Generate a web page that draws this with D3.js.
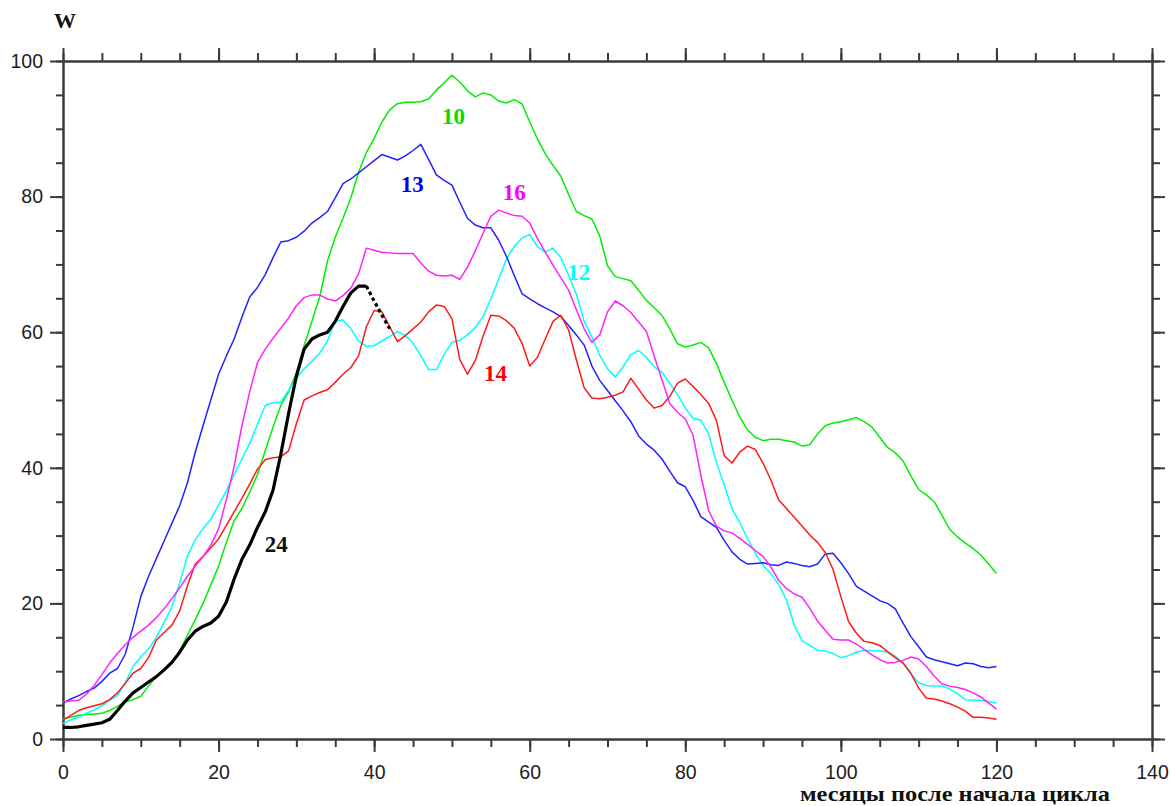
<!DOCTYPE html>
<html>
<head>
<meta charset="utf-8">
<script src="https://cdn.jsdelivr.net/npm/d3@7/dist/d3.min.js"></script>
<style>
  html, body { margin: 0; padding: 0; background: #ffffff; }
  svg { display: block; }
</style>
</head>
<body>
<svg id="chart" width="1171" height="806"></svg>
<script>
// ---------------- DATA ----------------
const months = d3.range(0, 121);   // 0 .. 120 months after cycle start
const months24 = d3.range(0, 43);  // cycle 24: 0 .. 42

const cycle10 = [3.0,3.2,3.5,3.6,3.7,3.8,4.2,4.8,5.5,5.8,6.3,7.8,9.2,10.2,11.2,13.0,15.3,17.6,20.0,22.7,
  25.5,29.0,32.2,34.0,36.4,39.0,42.5,46.0,49.2,51.2,54.0,58.0,61.6,65.2,70.5,74.0,76.8,79.8,83.6,86.5,
  88.6,91.0,92.8,93.7,93.9,93.9,94.0,94.4,95.7,96.8,97.9,96.9,95.6,94.7,95.3,95.0,94.1,93.8,94.3,93.7,
  91.0,88.5,86.3,84.6,83.0,80.3,77.8,77.2,76.7,74.2,69.8,68.2,67.9,67.6,66.2,64.7,63.6,62.5,60.5,58.3,
  57.8,58.1,58.5,57.7,55.4,52.6,50.0,47.5,45.6,44.5,44.0,44.2,44.2,44.0,43.8,43.2,43.4,45.0,46.2,46.6,
  46.8,47.1,47.4,46.8,46.0,44.5,43.0,42.2,41.0,38.8,36.8,36.0,35.0,33.0,30.9,29.8,28.9,28.1,27.1,25.8,24.4];

const cycle12 = [2.3,2.8,3.2,3.8,4.3,4.9,5.7,6.4,8.3,10.7,12.1,13.3,15.0,17.2,19.5,23.0,27.0,29.4,31.0,32.4,
  34.5,36.6,39.0,41.3,43.6,46.4,49.2,49.6,49.7,51.4,53.2,54.6,55.7,56.9,58.7,61.7,61.8,60.5,58.7,57.9,
  58.0,58.7,59.4,60.1,59.5,58.4,56.5,54.5,54.5,56.7,58.5,58.8,59.6,60.7,62.3,64.9,67.8,70.8,72.6,73.9,
  74.4,72.6,71.8,72.4,71.0,68.4,65.6,61.6,59.3,56.6,54.6,53.4,54.9,56.7,57.3,56.3,54.9,54.1,52.5,50.8,
  48.8,47.3,47.0,45.0,40.8,37.5,34.0,31.9,29.6,27.4,25.6,24.4,22.8,20.5,16.8,14.5,13.8,13.1,13.0,12.6,
  12.0,12.3,12.8,13.1,13.0,13.0,12.8,12.2,11.2,9.6,8.3,7.9,7.8,7.8,7.4,6.7,5.8,5.7,5.7,5.5,5.3];

const cycle13 = [5.3,5.9,6.4,7.0,7.5,8.5,9.7,10.4,12.5,16.5,21.0,24.0,26.6,29.2,31.8,34.4,37.8,42.3,46.2,50.0,
  53.8,56.5,59.0,62.2,65.2,66.6,68.5,71.0,73.3,73.5,74.0,74.9,76.1,76.9,77.8,79.8,81.9,82.6,83.5,84.4,
  85.3,86.2,85.8,85.4,86.0,86.8,87.7,85.5,83.2,82.4,81.7,79.2,76.8,75.8,75.4,75.4,73.6,71.2,68.4,65.7,
  64.9,64.2,63.6,63.0,62.3,61.0,59.6,58.1,55.0,52.9,51.4,49.9,48.4,46.8,44.7,43.5,42.6,41.3,39.5,37.8,
  37.2,35.2,32.8,32.0,31.2,29.3,27.6,26.5,25.8,25.9,26.0,25.7,25.6,26.1,25.9,25.6,25.4,25.8,27.3,27.4,
  26.0,24.4,22.5,21.8,21.1,20.4,20.0,19.2,17.1,15.1,13.6,12.1,11.7,11.4,11.1,10.8,11.2,11.1,10.7,10.5,10.7];

const cycle14 = [2.8,3.5,4.2,4.6,4.9,5.2,5.8,6.8,8.2,9.7,10.4,12.0,14.6,15.7,16.8,18.9,22.6,25.8,26.9,28.2,
  29.5,31.5,33.5,35.5,37.6,39.8,41.2,41.5,41.6,42.5,46.5,50.0,50.6,51.1,51.5,52.6,53.8,54.8,56.5,60.8,
  63.2,63.0,60.8,58.6,59.5,60.5,61.5,63.0,64.0,63.8,62.0,56.0,53.8,55.8,59.4,62.5,62.4,61.7,60.6,58.4,
  55.0,56.3,59.0,61.6,62.5,60.3,55.9,51.8,50.3,50.2,50.4,50.7,51.2,53.2,51.6,50.0,48.8,49.2,50.5,52.5,
  53.1,52.0,50.8,49.5,47.0,41.8,40.7,42.3,43.2,42.7,40.7,38.2,35.3,34.0,32.7,31.4,30.1,29.0,27.5,25.0,
  21.0,17.3,15.6,14.4,14.2,13.8,12.9,12.0,11.2,9.7,7.5,6.0,5.9,5.6,5.2,4.7,4.1,3.2,3.2,3.1,2.9];

const cycle16 = [5.5,5.6,5.7,6.6,7.9,9.5,11.2,12.6,13.9,15.0,15.9,16.8,17.9,19.2,20.7,22.3,24.0,25.5,26.9,28.6,
  31.0,35.3,40.2,46.2,51.2,55.5,57.5,59.1,60.6,62.1,63.9,65.1,65.5,65.5,64.9,64.6,65.4,66.5,68.6,72.4,
  72.1,71.8,71.7,71.6,71.6,71.6,70.2,69.0,68.4,68.3,68.4,67.8,69.6,72.0,74.6,77.1,78.0,77.6,77.2,77.1,
  76.1,73.8,71.8,69.9,68.0,66.2,63.3,60.5,58.5,59.6,63.0,64.6,63.9,62.9,61.5,60.1,56.5,53.0,49.5,48.2,
  47.2,44.8,38.9,33.7,31.4,30.7,30.4,29.6,28.7,27.8,26.9,25.4,23.4,22.2,21.4,20.9,19.3,17.4,16.0,14.7,
  14.6,14.6,14.0,13.2,12.4,11.7,11.2,11.3,11.6,12.1,11.8,10.7,9.3,8.1,7.8,7.6,7.3,6.8,6.2,5.3,4.4];

const cycle24 = [1.7,1.7,1.8,2.0,2.2,2.4,2.9,4.2,5.6,6.8,7.6,8.4,9.2,10.2,11.3,12.8,14.6,15.9,16.6,17.1,
  18.1,20.2,23.6,26.5,28.6,31.2,33.5,36.7,42.0,48.0,53.5,57.5,59.0,59.6,60.0,61.6,63.8,65.8,66.8,66.8,
  64.6,62.5,60.5];
const cycle24LastObserved = 39; // later months drawn dotted

const seriesNames  = ["10", "12", "13", "14", "16"];
const seriesValues = [cycle10, cycle12, cycle13, cycle14, cycle16];
const seriesColors = ["#00ee00", "#00ffff", "#2222ff", "#ff1a1a", "#ff22ff"];

// label anchors in data space (month, W)
const labelNames  = ["10", "13", "16", "12", "14", "24"];
const labelMonths = [50.2, 44.9, 58.0, 66.3, 55.6, 27.4];
const labelValues = [90.7, 80.7, 79.5, 67.7, 52.8, 27.6];
const labelColors = ["#00dd00", "#0000ee", "#ff00ff", "#00ffff", "#ff0000", "#111111"];

const xTicksMajor = d3.range(0, 141, 20);
const xTicksMinor = d3.range(0, 141, 5);
const yTicksMajor = d3.range(0, 101, 20);
const yTicksMinor = d3.range(0, 101, 5);

const yAxisTitle = "W";
const xAxisTitle = "месяцы после начала цикла";

// ---------------- DRAWING ----------------
const svg = d3.select("#chart");
const L = 63, R = 1152, T = 61, B = 739;
const x = d3.scaleLinear().domain([0, 140]).range([L, R]);
const y = d3.scaleLinear().domain([0, 100]).range([B, T]);

const axisColor = "#3a3a3a";
const sansFont = "'Liberation Sans', Arial, sans-serif";
const serifFont = "'Liberation Serif', 'Times New Roman', serif";

function styleAxis(g) {
  g.selectAll("path.domain").attr("stroke", axisColor).attr("stroke-width", 2);
  g.selectAll(".tick line").attr("stroke", axisColor).attr("stroke-width", 2);
  g.selectAll(".tick text").attr("fill", "#1c1c24")
    .style("font-family", sansFont).style("font-size", "19.5px");
}

// minor ticks (no labels)
svg.append("g").attr("transform", `translate(0,${B})`)
  .call(d3.axisBottom(x).tickValues(xTicksMinor).tickSize(8).tickSizeOuter(0).tickFormat(""))
  .call(styleAxis);
svg.append("g").attr("transform", `translate(0,${T})`)
  .call(d3.axisTop(x).tickValues(xTicksMinor).tickSize(8).tickSizeOuter(0).tickFormat(""))
  .call(styleAxis);
svg.append("g").attr("transform", `translate(${L},0)`)
  .call(d3.axisLeft(y).tickValues(yTicksMinor).tickSize(7).tickSizeOuter(0).tickFormat(""))
  .call(styleAxis);
svg.append("g").attr("transform", `translate(${R},0)`)
  .call(d3.axisRight(y).tickValues(yTicksMinor).tickSize(8).tickSizeOuter(0).tickFormat(""))
  .call(styleAxis);

// major ticks
svg.append("g").attr("transform", `translate(0,${B})`)
  .call(d3.axisBottom(x).tickValues(xTicksMajor).tickSize(13).tickSizeOuter(0).tickPadding(13).tickFormat(d3.format("d")))
  .call(styleAxis);
svg.append("g").attr("transform", `translate(0,${T})`)
  .call(d3.axisTop(x).tickValues(xTicksMajor).tickSize(13).tickSizeOuter(0).tickFormat(""))
  .call(styleAxis);
svg.append("g").attr("transform", `translate(${L},0)`)
  .call(d3.axisLeft(y).tickValues(yTicksMajor).tickSize(13).tickSizeOuter(0).tickPadding(7).tickFormat(d3.format("d")))
  .call(styleAxis);
svg.append("g").attr("transform", `translate(${R},0)`)
  .call(d3.axisRight(y).tickValues(yTicksMajor).tickSize(13).tickSizeOuter(0).tickFormat(""))
  .call(styleAxis);

// lines
const line = d3.line().x(d => x(d[0])).y(d => y(d[1]));
seriesValues.forEach((vals, i) => {
  svg.append("path")
    .datum(months.map((m, k) => [m, vals[k]]))
    .attr("fill", "none")
    .attr("stroke", seriesColors[i])
    .attr("stroke-width", 1.5)
    .attr("stroke-linejoin", "round")
    .attr("d", line);
});

// cycle 24: thick black, observed part solid, tail dotted
const pts24 = months24.map((m, k) => [m, cycle24[k]]);
svg.append("path")
  .datum(pts24.filter(p => p[0] <= cycle24LastObserved))
  .attr("fill", "none").attr("stroke", "#000").attr("stroke-width", 3.2)
  .attr("stroke-linejoin", "round").attr("d", line);
svg.append("path")
  .datum(pts24.filter(p => p[0] >= cycle24LastObserved))
  .attr("fill", "none").attr("stroke", "#000").attr("stroke-width", 3.2)
  .attr("stroke-dasharray", "3.5,3").attr("d", line);

// series labels
labelNames.forEach((t, i) => {
  svg.append("text")
    .attr("x", x(labelMonths[i]))
    .attr("y", y(labelValues[i]))
    .attr("text-anchor", "middle")
    .attr("fill", labelColors[i])
    .style("font-family", serifFont)
    .style("font-weight", "bold")
    .style("font-size", "23px")
    .text(t);
});

// axis titles
svg.append("text")
  .attr("x", 54).attr("y", 28)
  .attr("fill", "#111")
  .style("font-family", serifFont).style("font-weight", "bold").style("font-size", "22px")
  .text(yAxisTitle);

svg.append("text")
  .attr("x", 800).attr("y", 801)
  .attr("fill", "#111")
  .attr("textLength", 310).attr("lengthAdjust", "spacingAndGlyphs")
  .style("font-family", serifFont).style("font-weight", "bold").style("font-size", "22px")
  .text(xAxisTitle);
</script>
</body>
</html>
